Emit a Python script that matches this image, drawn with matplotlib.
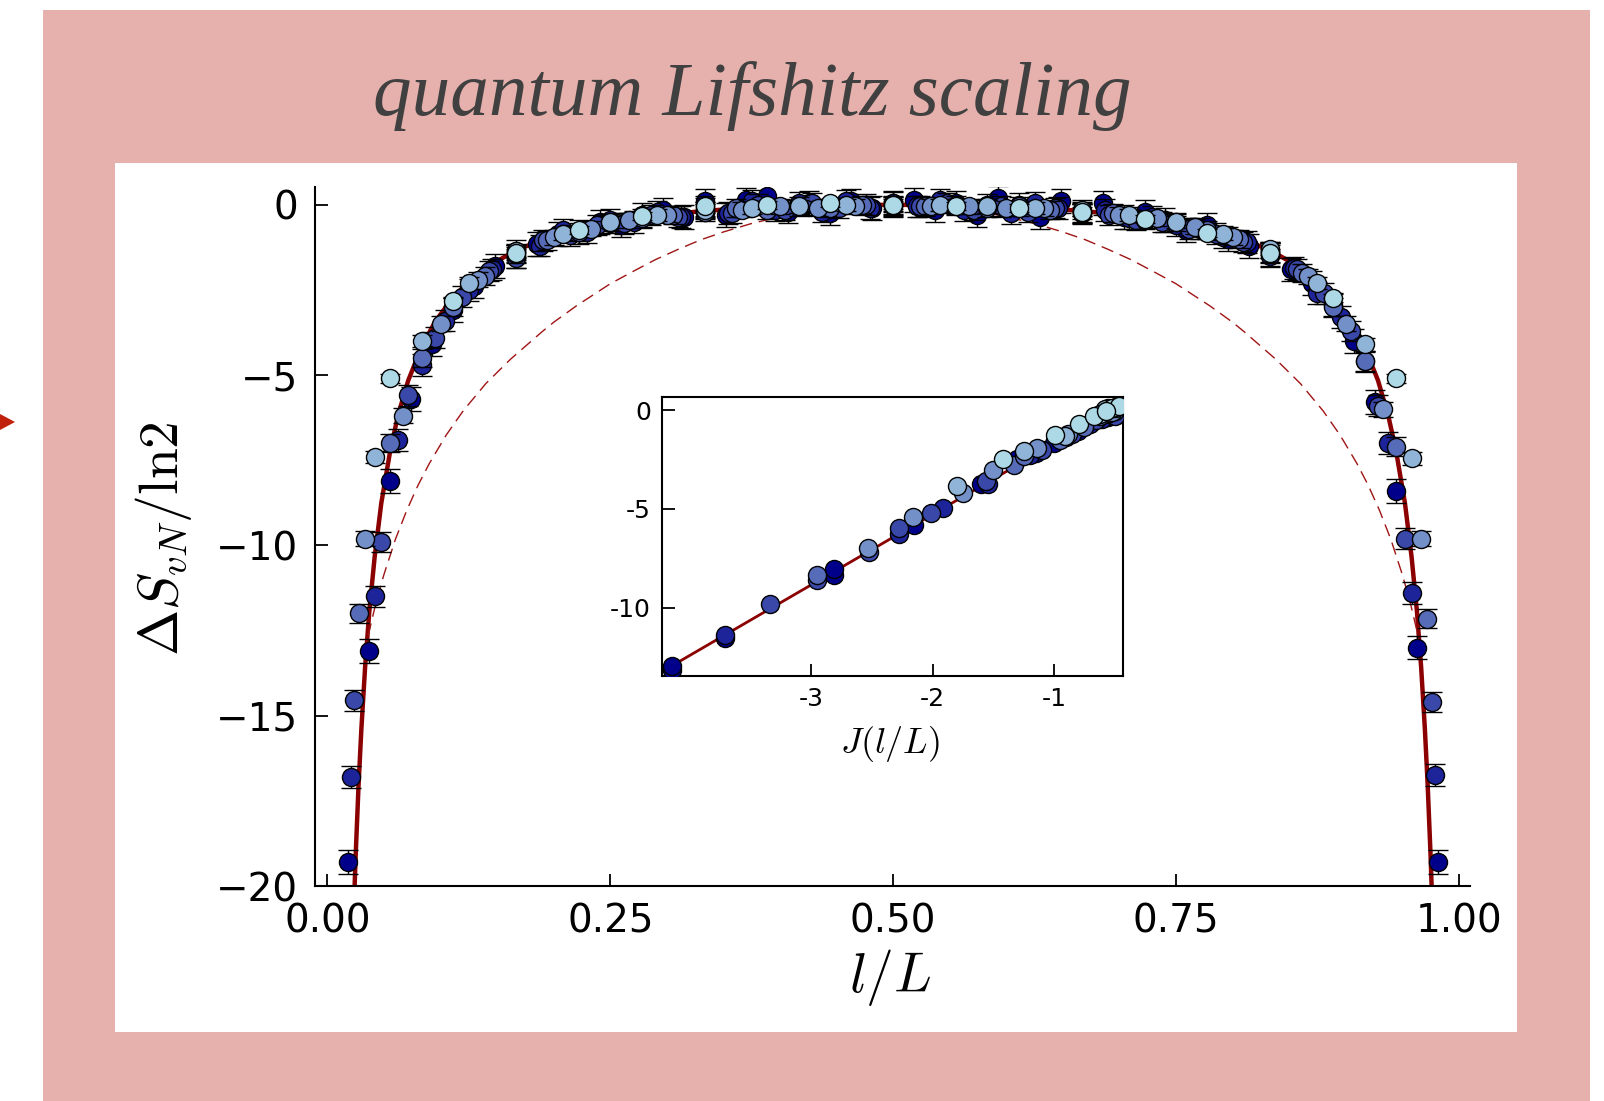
import numpy as np
import matplotlib
matplotlib.use("Agg")
import matplotlib.pyplot as plt
from matplotlib.patches import Rectangle, Polygon

plt.rcParams['mathtext.fontset'] = 'cm'
plt.rcParams['font.family'] = 'DejaVu Sans'

W, H = 1604, 1101

# ---------------- data ----------------
# system sizes L (x = l/L, l = 1..L-1), darkest first
sizes = [54, 48, 42, 36, 30, 24, 18]
colors = ['#00008B', '#1D249A', '#3A48A9', '#576CB8', '#7390C8', '#90B4D7', '#ADD8E6']
yerr = [0.35, 0.32, 0.30, 0.27, 0.22, 0.18, 0.12]

dS_54 = [-19.3, -13.1, -8.1, -5.7, -4.1, -3.1, -2.4, -1.8, -1.5, -1.15, -0.85, -0.8, -0.5, -0.6,
         -0.3, -0.15, -0.35, 0.1, -0.3, 0.15, 0.25, -0.2, 0.05, -0.25, 0.1, -0.1, 0.05,
         0.15, -0.15, 0.05, -0.3, 0.2, 0.0, -0.35, 0.1, -0.2, 0.05, -0.35, -0.2, -0.45, -0.75,
         -0.6, -1.0, -1.2, -1.45, -1.9, -2.3, -2.95, -4.0, -5.8, -8.4, -13.0, -19.3]
dS_48 = [-16.8, -11.5, -6.9, -4.7, -3.4, -2.5, -1.9, -1.35, -1.2, -0.75, -0.8, -0.45, -0.5, -0.2,
         -0.35, -0.05, -0.25, 0.1, -0.15, 0.05, -0.2, 0.1, -0.1, 0.05, -0.05, 0.15, -0.15, 0.0,
         -0.25, 0.05, -0.1, -0.25, -0.15, -0.4, -0.35, -0.6, -0.7, -0.95, -1.1, -1.5, -1.85,
         -2.6, -3.3, -4.6, -7.0, -11.4, -16.75]
dS_42 = [-14.55, -9.9, -5.6, -3.9, -2.7, -1.95, -1.55, -1.05, -0.9, -0.6, -0.55, -0.3, -0.35,
         -0.1, -0.25, 0.0, -0.15, 0.05, -0.1, 0.0, -0.05, -0.05, 0.05, -0.15, -0.05, -0.2, -0.1,
         -0.25, -0.3, -0.45, -0.5, -0.7, -0.85, -1.1, -1.4, -1.9, -2.6, -3.7, -5.9, -9.8, -14.6]
dS_36 = [-12.0, -7.0, -4.5, -3.0, -2.1, -1.45, -1.05, -0.8, -0.55, -0.4, -0.3, -0.2, -0.1, -0.15,
         -0.05, -0.1, 0.0, -0.05, -0.05, 0.0, -0.1, -0.05, -0.15, -0.25, -0.25, -0.45, -0.5,
         -0.75, -1.0, -1.4, -2.0, -3.0, -4.6, -7.1, -12.15]
dS_30 = [-9.8, -6.2, -3.5, -2.2, -1.4, -0.95, -0.7, -0.45, -0.3, -0.2, -0.15, -0.05, -0.1, -0.05,
         0.0, -0.05, -0.05, -0.1, -0.1, -0.2, -0.3, -0.4, -0.65, -0.95, -1.35, -2.1, -3.5, -6.0, -9.8]
dS_24 = [-7.4, -4.0, -2.3, -1.35, -0.85, -0.5, -0.3, -0.15, -0.1, -0.05, 0.0, 0.0, 0.0, -0.05,
         -0.1, -0.15, -0.3, -0.5, -0.85, -1.3, -2.3, -4.1, -7.45]
dS_18 = [-5.1, -2.84, -1.43, -0.75, -0.33, -0.05, 0.0, 0.05, -0.02, -0.03, -0.1, -0.2, -0.43,
         -0.83, -1.43, -2.74, -5.1]
dS_all = [dS_54, dS_48, dS_42, dS_36, dS_30, dS_24, dS_18]

# fit curve (solid) and reference curve (dashed)
fit_x = [0.0235, 0.025, 0.0275, 0.03, 0.0333, 0.037, 0.0417, 0.0476, 0.0556, 0.0625, 0.0714,
         0.0833, 0.0952, 0.1111, 0.125, 0.1429, 0.1667, 0.1905, 0.2143, 0.25, 0.2857, 0.3333,
         0.381, 0.4286, 0.5, 0.5714, 0.619, 0.6667, 0.7143, 0.75, 0.7857, 0.8095, 0.8333,
         0.8571, 0.875, 0.8889, 0.9048, 0.9167, 0.9286, 0.9375, 0.9444, 0.9524, 0.9583, 0.963,
         0.9667, 0.97, 0.9725, 0.975, 0.9765]
fit_y = [-20.5, -19.06, -17.04, -15.38, -13.57, -11.94, -10.35, -8.76, -7.2, -6.17, -5.16,
         -4.17, -3.43, -2.72, -2.25, -1.79, -1.34, -1.02, -0.78, -0.52, -0.34, -0.18,
         -0.08, -0.03, 0.0, -0.03, -0.08, -0.18, -0.34, -0.52, -0.78, -1.02, -1.34,
         -1.79, -2.25, -2.72, -3.43, -4.17, -5.16, -6.17, -7.2, -8.76, -10.35, -11.94,
         -13.57, -15.38, -17.04, -19.06, -20.5]
ref_x = [0.036, 0.043, 0.05, 0.06, 0.07, 0.08, 0.09, 0.105, 0.12, 0.14, 0.162, 0.19, 0.2, 0.22,
         0.25, 0.27, 0.29, 0.31, 0.33, 0.35, 0.374, 0.4, 0.42, 0.44, 0.46, 0.48, 0.5,
         0.52, 0.54, 0.56, 0.58, 0.6, 0.626, 0.65, 0.67, 0.69, 0.71, 0.73, 0.75, 0.78, 0.8,
         0.81, 0.838, 0.86, 0.88, 0.895, 0.91, 0.92, 0.93, 0.94, 0.95, 0.957, 0.964]
ref_y = [-12.65, -11.67, -10.85, -9.83, -8.98, -8.24, -7.6, -6.76, -6.05, -5.25, -4.53, -3.72,
         -3.45, -2.97, -2.32, -1.96, -1.61, -1.31, -1.03, -0.8, -0.56, -0.35, -0.22, -0.125,
         -0.055, -0.014, 0.0,
         -0.014, -0.055, -0.125, -0.22, -0.35, -0.56, -0.8, -1.03, -1.31, -1.61, -1.96, -2.32,
         -2.97, -3.45, -3.72, -4.53, -5.25, -6.05, -6.76, -7.6, -8.24, -8.98, -9.83, -10.85,
         -11.67, -12.65]

# inset: dS vs J(l/L), grouped by colour
inset_J = [[-4.15, -4.15, -3.71, -2.81, -2.81, -2.15, -1.6, -1.3, -1.15, -1.0, -0.8, -0.6, -0.46,
            -0.47, -0.5, -0.45, -0.55],
           [-3.71, -2.28, -1.91, -1.54, -1.2, -0.9, -0.7, -0.5, -0.48, -0.46, -0.52, -0.6],
           [-3.34, -2.95, -2.52, -2.28, -2.01, -1.56, -1.1, -0.85, -0.65, -0.5, -0.47, -0.56],
           [-2.95, -1.33, -1.25, -0.95, -0.75, -0.55, -0.49, -0.45, -0.5, -0.62],
           [-2.53, -2.16, -1.75, -1.5, -1.14, -0.88, -0.48, -0.52, -0.46, -0.55],
           [-1.8, -1.25, -0.91, -0.58, -0.5, -0.47, -0.62],
           [-1.42, -0.99, -0.79, -0.67, -0.52, -0.46, -0.57]]
inset_S = [[-13.15, -12.95, -11.55, -8.35, -8.05, -5.8, -3.75, -2.5, -2.15, -1.65, -1.05, -0.35,
            -0.2, 0.0, -0.15, -0.05, -0.35],
           [-11.39, -6.26, -4.96, -3.75, -2.3, -1.35, -0.7, -0.05, 0.1, 0.05, -0.25, -0.45],
           [-9.81, -8.6, -7.16, -5.97, -5.21, -3.6, -2.0, -1.2, -0.5, -0.3, 0.1, -0.2],
           [-8.34, -2.76, -2.35, -1.5, -0.85, -0.15, 0.05, 0.2, -0.05, -0.3],
           [-6.99, -5.41, -4.2, -3.01, -1.91, -1.2, 0.15, -0.1, 0.25, 0.1],
           [-3.82, -2.08, -1.32, 0.03, 0.1, 0.2, -0.2],
           [-2.47, -1.24, -0.73, -0.3, 0.12, 0.22, -0.05]]
inset_fit_J = [-4.15, -0.45]
inset_fit_S = [-12.95, 0.25]

# ---------------- figure ----------------
fig = plt.figure(figsize=(W / 100, H / 100), dpi=100)
fig.patches.append(Rectangle((43 / W, 0), (1590 - 43) / W, (H - 10) / H,
                             transform=fig.transFigure, facecolor='#E6B1AC', edgecolor='none', zorder=-3))
fig.patches.append(Rectangle((115 / W, 1 - 1032 / H), (1517 - 115) / W, (1032 - 163) / H,
                             transform=fig.transFigure, facecolor='white', edgecolor='none', zorder=-2))
fig.patches.append(Polygon([(0, 1 - 414 / H), (15 / W, 1 - 422 / H), (0, 1 - 430 / H)], closed=True,
                           transform=fig.transFigure, facecolor='#C0200C', edgecolor='none', zorder=-2))

fig.text(752 / W, 1 - 96 / H, 'quantum Lifshitz scaling', ha='center', va='center',
         fontsize=55.5, family='Liberation Serif', style='italic', color='#404040')

ax = fig.add_axes([315 / W, 1 - 886 / H, (1470 - 315) / W, (886 - 187) / H])
ax.set_facecolor('none')

ax.plot(fit_x, fit_y, color='#8B0000', lw=3.2, zorder=2)
ax.plot(ref_x, ref_y, color='#A01414', lw=1.0, dashes=(9, 5), zorder=2)

for i, L in enumerate(sizes):
    x = np.arange(1, L) / L
    y = np.array(dS_all[i])
    ax.errorbar(x, y, yerr=yerr[i], fmt='none', ecolor='black', elinewidth=1.0,
                capsize=7, capthick=1.0, zorder=3 + 2 * i)
    ax.plot(x, y, 'o', ms=13, mfc=colors[i], mec='black', mew=1.0, zorder=4 + 2 * i)

ax.set_xlim(-0.011, 1.0099)
ax.set_ylim(-20, 0.52)
ax.set_xticks([0, 0.25, 0.5, 0.75, 1.0])
ax.set_xticklabels(['0.00', '0.25', '0.50', '0.75', '1.00'])
ax.set_yticks([0, -5, -10, -15, -20])
ax.set_yticklabels(['0', '\u22125', '\u221210', '\u221215', '\u221220'])
for s in ['top', 'right']:
    ax.spines[s].set_visible(False)
for s in ['left', 'bottom']:
    ax.spines[s].set_linewidth(1.5)
ax.tick_params(direction='in', length=9, width=1.3, labelsize=28, pad=12)

fig.text(164 / W, 1 - 539 / H, r'$\Delta S_{vN}/\mathrm{ln}2$', rotation=90, ha='center', va='center', fontsize=40)
fig.text(890 / W, 1 - 977 / H, r'$l/L$', ha='center', va='center', fontsize=40)

# inset
ins = fig.add_axes([662 / W, 1 - 676 / H, (1123 - 662) / W, (676 - 397) / H])
ins.plot(inset_fit_J, inset_fit_S, color='#8B0000', lw=2.0, zorder=2)
for c in range(len(colors)):
    ins.plot(inset_J[c], inset_S[c], 'o', ms=13, mfc=colors[c], mec='black', mew=1.0, zorder=3 + c)
ins.set_xlim(-4.23, -0.43)
ins.set_ylim(-13.46, 0.66)
ins.set_xticks([-3, -2, -1])
ins.set_xticklabels(['-3', '-2', '-1'])
ins.set_yticks([0, -5, -10])
ins.set_yticklabels(['0', '-5', '-10'])
for s in ins.spines.values():
    s.set_linewidth(1.5)
ins.tick_params(direction='in', length=9, width=1.3, labelsize=18, pad=8)
fig.text(890 / W, 1 - 744 / H, r'$J(l/L)$', ha='center', va='center', fontsize=26)

fig.savefig('out.png', dpi=100)
